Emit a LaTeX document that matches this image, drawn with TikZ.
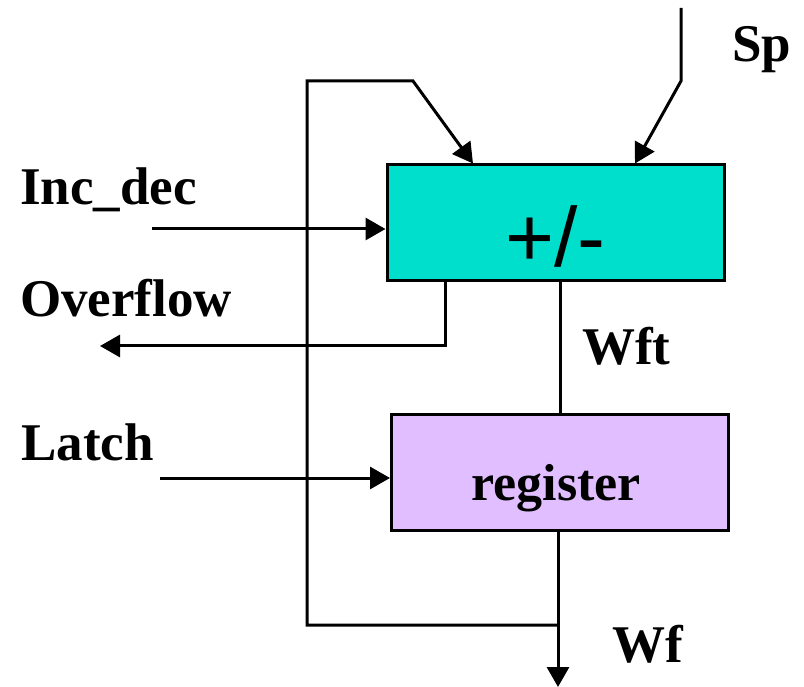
\documentclass[tikz,border=0pt]{standalone}
\usepackage{fontspec}
\setmainfont{Liberation Serif}
\newfontfamily\arialfont{Liberation Sans}
\usetikzlibrary{arrows.meta}
\definecolor{addteal}{RGB}{0,222,204}
\definecolor{regviolet}{RGB}{225,190,255}

\begin{document}
\begin{tikzpicture}[x=1pt,y=-1pt,
  wire/.style={line width=3pt},
  sig/.style={wire,-{Triangle[length=20pt,width=22pt]}},
  block/.style={draw,line width=3pt,inner sep=0pt,minimum width=337pt,minimum height=116pt},
  lbl/.style={font=\fontsize{53}{53}\selectfont\bfseries,anchor=base west,inner sep=0pt}]
\useasboundingbox (0,0) rectangle (804,687);

% the two blocks
\node[block,fill=addteal,font=\fontsize{84}{84}\selectfont\arialfont,
      text height=88pt,text depth=0pt] (add) at (555.5,223) {+/-};
\node[block,fill=regviolet,font=\fontsize{52}{52}\selectfont\bfseries,
      text height=55pt,text depth=0pt] (reg) at (560,472.5) {\hspace{-8pt}register};

% signal names
\node[lbl] (sp)   at (732,62)  {Sp};
\node[lbl] (inc)  at (20,205)  {Inc\_dec};
\node[lbl] (ovf)  at (20,317)  {Overflow};
\node[lbl] (lat)  at (21,460)  {Latch};
\node[lbl] (wft)  at (582,365) {Wft};
\node[lbl] (wf)   at (612,662) {Wf};

% free ends and bends
\coordinate (sptop)   at (681,8);
\coordinate (spbend)  at (681,81);
\coordinate (sptip)   at (635,0);
\coordinate (incin)   at (152,229);
\coordinate (ovfx)    at (445,0);
\coordinate (ovfbend) at (445,346);
\coordinate (ovfout)  at (100,346);
\coordinate (wftx)    at (560,0);
\coordinate (latin)   at (160,478);
\coordinate (wfx)     at (558,0);
\coordinate (wfjoin)  at (558,625);
\coordinate (wfout)   at (558,687);
\coordinate (fbbl)    at (307,625);
\coordinate (fbtl)    at (307,81);
\coordinate (fbtr)    at (413,81);
\coordinate (fbtip)   at (473,0);

% connectors
\draw[sig] (sptop) -- (spbend) -- (add.north -| sptip);
\draw[sig] (incin) -- (add.west |- incin);
\draw[sig] (add.south -| ovfx) -- (ovfbend) -- (ovfout);
\draw[wire] (add.south -| wftx) -- (reg.north -| wftx);
\draw[sig] (latin) -- (reg.west |- latin);
\draw[sig] (reg.south -| wfx) -- (wfout);
\draw[sig] (wfjoin) -- (fbbl) -- (fbtl) -- (fbtr) -- (add.north -| fbtip);
\end{tikzpicture}
\end{document}
